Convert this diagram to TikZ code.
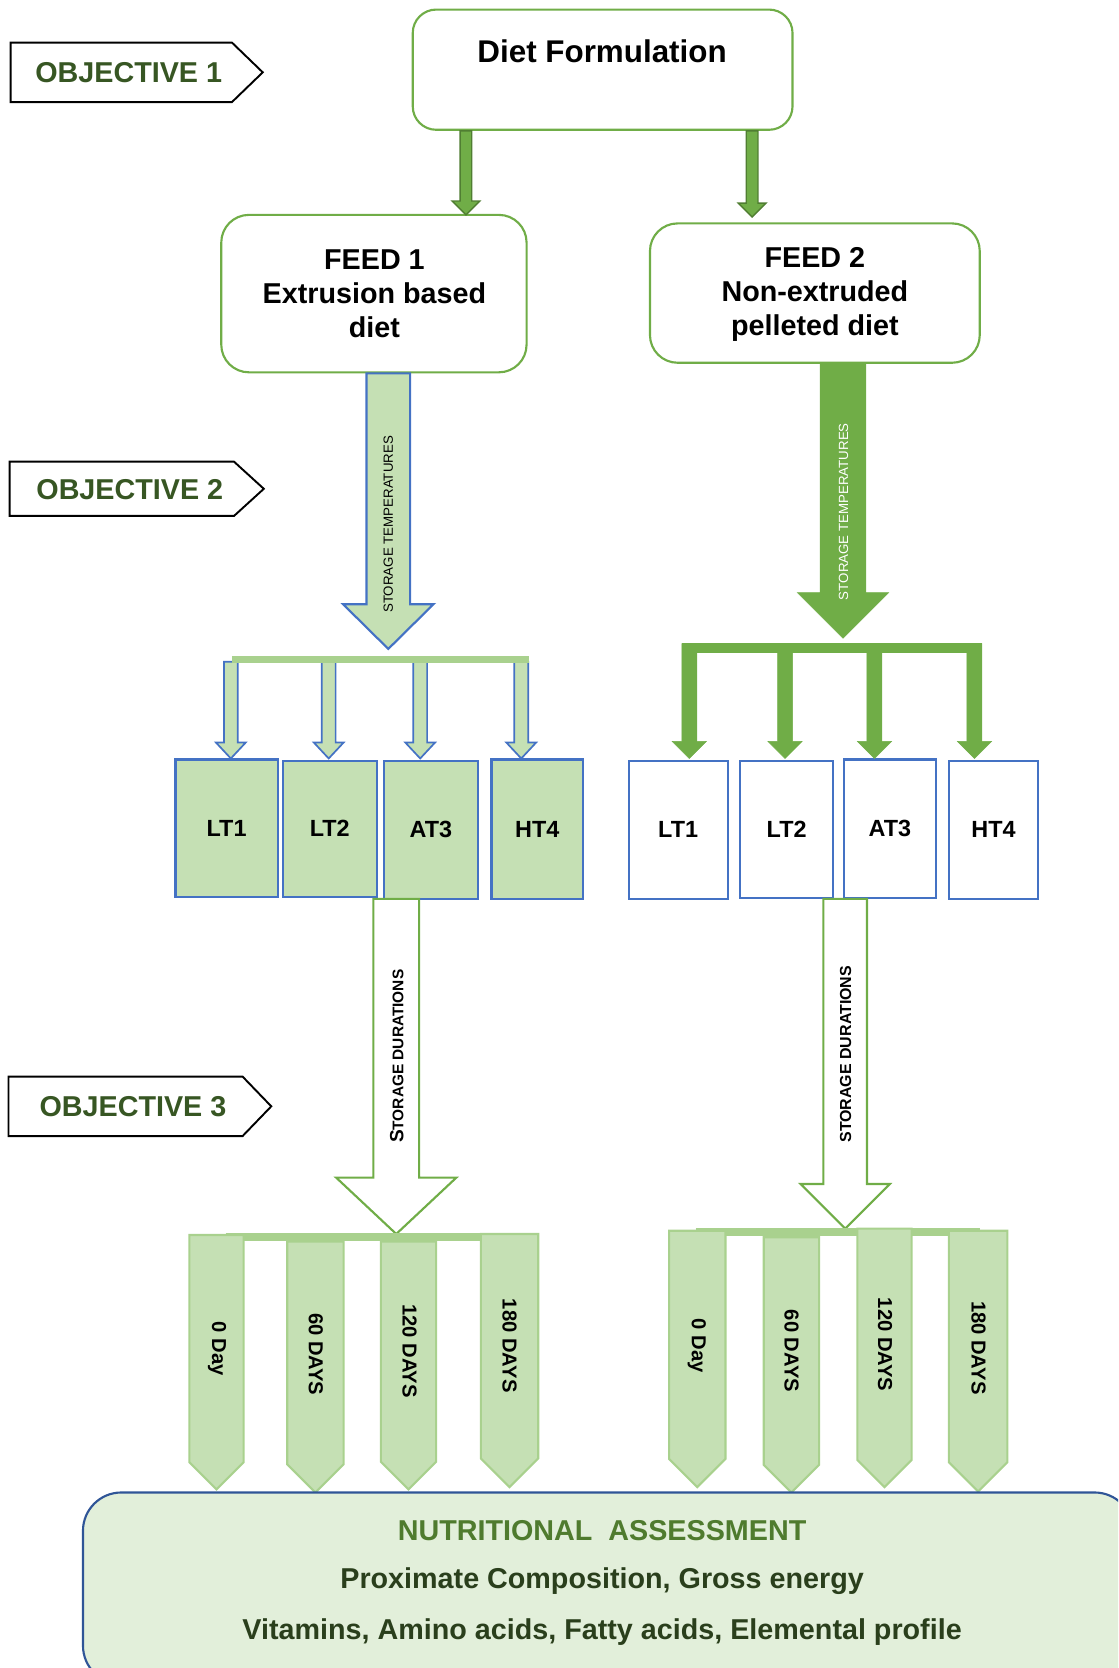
\documentclass[tikz,border=0pt]{standalone}
\usepackage{fontspec}
\setmainfont{Liberation Sans}
\definecolor{gOut}{HTML}{70AD47}
\definecolor{gDark}{HTML}{507E32}
\definecolor{gLight}{HTML}{C5E0B4}
\definecolor{gBar}{HTML}{A9D18E}
\definecolor{bOut}{HTML}{4472C4}
\definecolor{objText}{HTML}{375623}
\definecolor{nutTitle}{HTML}{4F7B2E}
\definecolor{nutText}{HTML}{2A3F1C}
\definecolor{nutFill}{HTML}{E2EFDA}
\definecolor{nutOut}{HTML}{2F5597}
% block arrow: style, xc, ytop, half shaft, yhead, half head, ytip
\newcommand{\blkarrow}[7]{\draw[#1] ({#2-#4},#3) -- ({#2+#4},#3) -- ({#2+#4},#5) -- ({#2+#6},#5) -- (#2,#7) -- ({#2-#6},#5) -- ({#2-#4},#5) -- cycle;}
% objective pentagon: xleft, xright, xtip, ytop, ybot
\newcommand{\objshape}[5]{\draw[objline] (#1,#4) -- (#2,#4) -- (#3,{(#4+#5)/2}) -- (#2,#5) -- (#1,#5) -- cycle;}
% day pentagon: xleft, xright, ytop, ytip
\newcommand{\dayshape}[4]{\draw[dayarrow] (#1,#3) -- (#2,#3) -- (#2,{#4-(#2-#1)/2}) -- ({(#1+#2)/2},#4) -- (#1,{#4-(#2-#1)/2}) -- cycle;}
\begin{document}
\begin{tikzpicture}[x=1pt,y=-1pt,
  every node/.style={inner sep=0pt, font=\bfseries},
  objline/.style={draw=black, line width=1.8pt, fill=white, line join=miter},
  objtxt/.style={text=objText, font=\fontsize{27}{32}\selectfont\bfseries},
  rbox/.style={draw=gOut, line width=2pt, fill=white, rounded corners=22pt},
  bigtxt/.style={font=\fontsize{27}{32}\selectfont\bfseries, align=center},
  tbox/.style={draw=bOut, line width=2pt, font=\fontsize{22}{26}\selectfont\bfseries},
  dietarrow/.style={fill=gOut, draw=gDark, line width=1.3pt, line join=miter},
  lightarrow/.style={fill=gLight, draw=bOut, line width=2pt, line join=miter},
  solidarrow/.style={fill=gOut, draw=gOut, line width=0.5pt, line join=miter},
  hollowarrow/.style={fill=white, draw=gOut, line width=2pt, line join=miter},
  dayarrow/.style={fill=gLight, draw=gBar, line width=2pt, line join=miter},
  daytxt/.style={font=\fontsize{19}{22}\selectfont\bfseries, rotate=-90},
  nuttxt/.style={font=\fontsize{27}{32}\selectfont\bfseries, text=nutText}
]
\useasboundingbox (0,0) rectangle (1051,1568);
\begin{scope}
\clip (0,0) rectangle (1051,1568);

% Objectives
\objshape{10}{218}{247}{40}{96}
\node[objtxt] (obj1) at (121,68) {OBJECTIVE 1};
\objshape{9}{220}{248}{434}{485}
\node[objtxt] (obj2) at (122,460) {OBJECTIVE 2};
\objshape{8}{228}{255}{1012}{1068}
\node[objtxt] (obj3) at (125,1040) {OBJECTIVE 3};

% Diet formulation
\node[rbox, minimum width=357pt, minimum height=113pt] (diet) at (566.5,65.5) {};
\node[font=\fontsize{29.5}{34}\selectfont\bfseries] (dietlbl) at (566,48) {Diet Formulation};

% Feeds
\node[rbox, rounded corners=26pt, minimum width=287pt, minimum height=148pt] (feed1) at (351.5,276) {};
\node[bigtxt] (feed1lbl) at (352,276) {FEED 1\\Extrusion based\\diet};
\node[rbox, rounded corners=26pt, minimum width=310pt, minimum height=131pt] (feed2) at (766,275.5) {};
\node[bigtxt] (feed2lbl) at (766,277) {FEED 2\\Non-extruded\\pelleted diet};

\blkarrow{dietarrow}{438}{123}{5.5}{189}{13}{202}
\blkarrow{dietarrow}{707}{123}{5.5}{191}{13}{204}

% Temperature boxes left
\node[tbox, fill=gLight, minimum width=96pt, minimum height=129pt] (lt1a) at (213,778.5) {LT1};
\node[tbox, fill=gLight, minimum width=88pt, minimum height=128pt] (lt2a) at (310,779) {LT2};
\node[tbox, fill=gLight, minimum width=88pt, minimum height=130pt] (at3a) at (405,780) {AT3};
\node[tbox, fill=gLight, minimum width=86pt, minimum height=131pt] (ht4a) at (505,779.5) {HT4};
% Temperature boxes right
\node[tbox, fill=white, minimum width=93pt, minimum height=130pt] (lt1b) at (637.5,780) {LT1};
\node[tbox, fill=white, minimum width=87pt, minimum height=129pt] (lt2b) at (739.5,779.5) {LT2};
\node[tbox, fill=white, minimum width=87pt, minimum height=130pt] (at3b) at (836.5,779) {AT3};
\node[tbox, fill=white, minimum width=84pt, minimum height=130pt] (ht4b) at (934,780) {HT4};

% Storage temperatures arrows
\blkarrow{lightarrow}{365}{351}{20.5}{568}{42.5}{610}
\node[font=\fontsize{12.5}{14}\selectfont, rotate=90] (tempL) at (365,493) {STORAGE TEMPERATURES};
\blkarrow{solidarrow}{792.5}{341}{21.5}{557}{43}{600}
\node[font=\fontsize{12.5}{14}\selectfont, rotate=90, text=white] (tempR) at (793,481) {STORAGE TEMPERATURES};

% left small arrows
\foreach \xx in {217,309,395,490} {
  \blkarrow{lightarrow, line width=1.6pt}{\xx}{622}{6.5}{698}{14}{713}
}
\draw[gBar, line width=7pt] (218,620) -- (497,620);

% right bracket arrows
\draw[gOut, line width=10pt] (641,609) -- (923,609);
\foreach \xx in {648,738,822,916} {
  \blkarrow{solidarrow}{\xx}{605}{7}{697}{16}{713}
}

% Storage durations arrows
\blkarrow{hollowarrow}{372.5}{845}{21.5}{1107}{56.5}{1160}
\node[rotate=90] (durL) at (373,993) {{\fontsize{18}{20}\selectfont S}{\fontsize{14.5}{16}\selectfont TORAGE DURATIONS}};
\blkarrow{hollowarrow}{794.5}{845}{20.5}{1113}{42}{1155}
\node[rotate=90, font=\fontsize{15}{17}\selectfont\bfseries] (durR) at (795,991) {STORAGE DURATIONS};

% Day bars
\draw[gBar, line width=8pt] (212,1163) -- (498,1163);
\draw[gBar, line width=8pt] (654,1158) -- (921,1158);

% Day arrows left
\dayshape{178}{229}{1161}{1400}
\dayshape{270}{323}{1167}{1403}
\dayshape{358}{410}{1167}{1400}
\dayshape{452}{506}{1160}{1398}
\node[daytxt] (d0L) at (204,1268) {0 Day};
\node[daytxt] (d60L) at (297,1273) {60 DAYS};
\node[daytxt] (d120L) at (385,1270) {120 DAYS};
\node[daytxt] (d180L) at (479,1265) {180 DAYS};
% Day arrows right
\dayshape{629}{682}{1157}{1398}
\dayshape{718}{770}{1163}{1403}
\dayshape{806}{857}{1155}{1398}
\dayshape{892}{947}{1157}{1402}
\node[daytxt] (d0R) at (655,1265) {0 Day};
\node[daytxt] (d60R) at (744,1270) {60 DAYS};
\node[daytxt] (d120R) at (832,1264) {120 DAYS};
\node[daytxt] (d180R) at (920,1267) {180 DAYS};

% Nutritional assessment
\node[draw=nutOut, fill=nutFill, line width=2pt, rounded corners=36pt, minimum width=987pt, minimum height=180pt] (nut) at (571.5,1493) {};
\node[font=\fontsize{27}{32}\selectfont\bfseries, text=nutTitle] (nut1) at (566,1439) {NUTRITIONAL\ \ ASSESSMENT};
\node[nuttxt] (nut2) at (566,1486) {Proximate Composition, Gross energy};
\node[nuttxt] (nut3) at (566,1534) {Vitamins, Amino acids, Fatty acids, Elemental profile};
\end{scope}
\end{tikzpicture}
\end{document}
